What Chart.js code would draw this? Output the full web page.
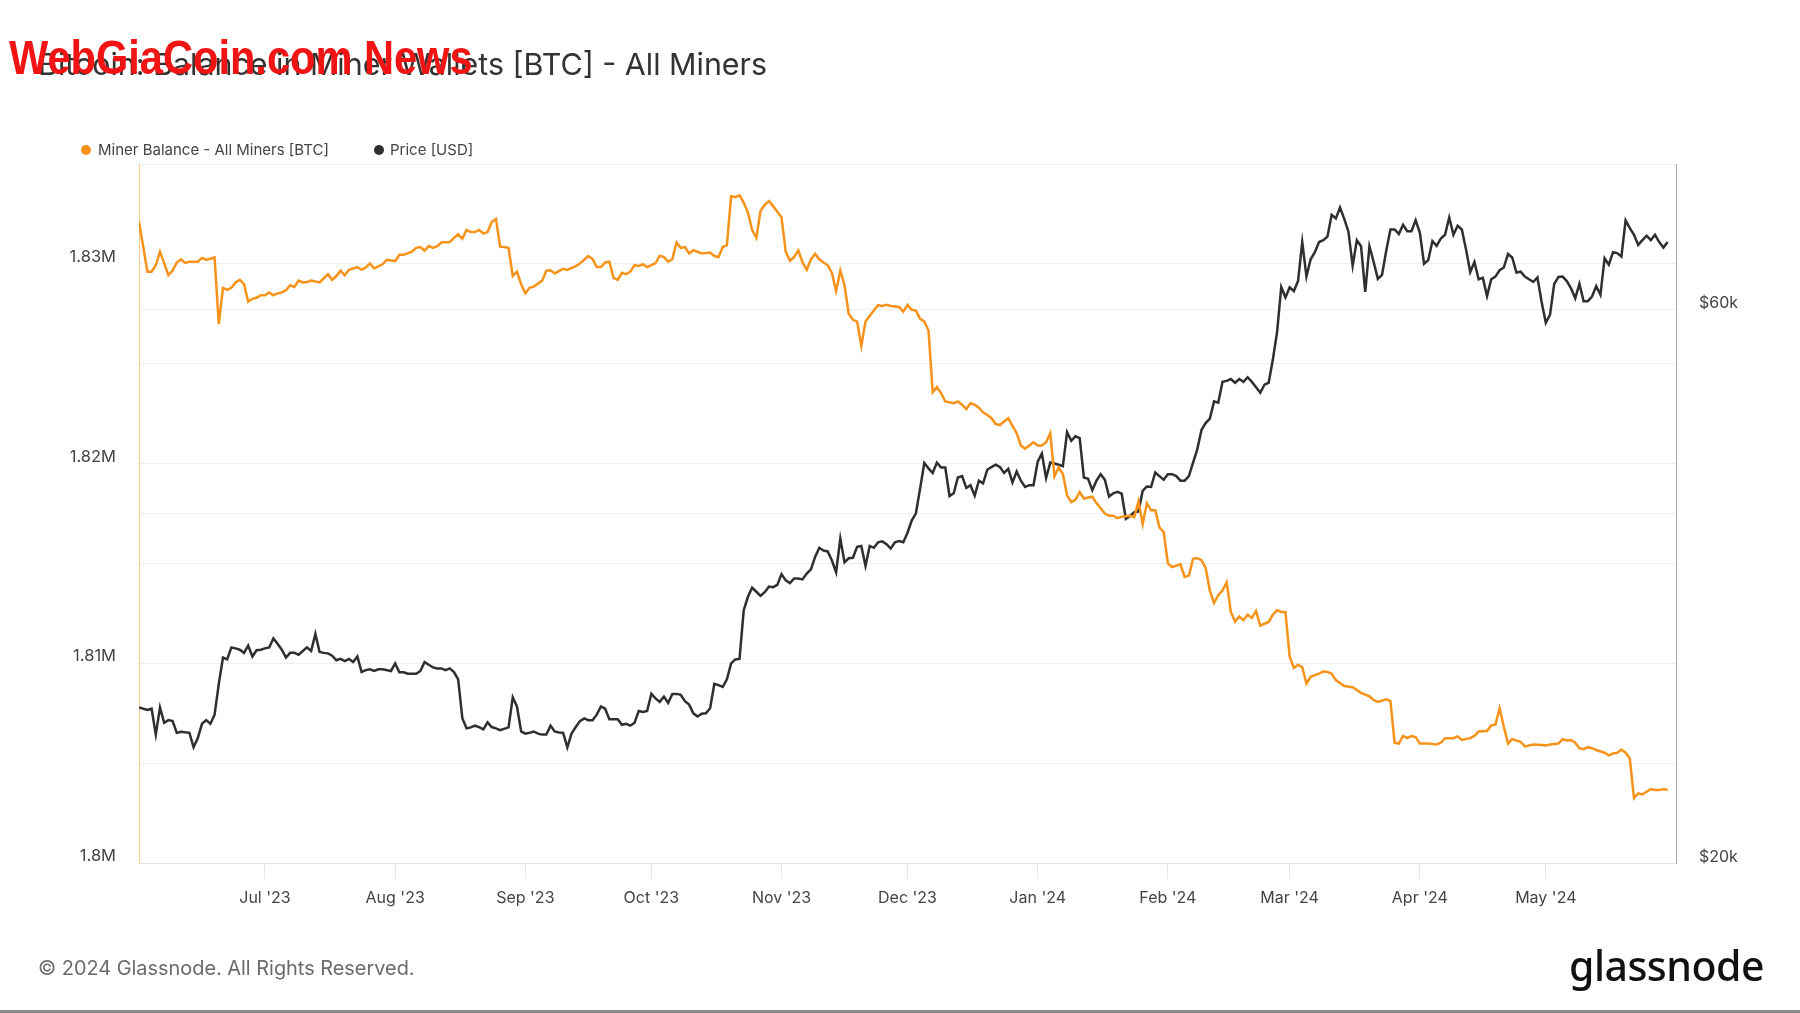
<!DOCTYPE html>
<html>
<head>
<meta charset="utf-8">
<script src="https://cdn.jsdelivr.net/npm/chart.js@4.4.1/dist/chart.umd.min.js"></script>
<style>
  html, body { margin: 0; padding: 0; background: #fff; }
  body { width: 1800px; height: 1013px; position: relative; overflow: hidden; font-family: Inter, "Open Sans", sans-serif; }
  #chart { position: absolute; left: 0; top: 0; }
  .title { position: absolute; left: 38px; top: 48px; font-size: 30.4px; line-height: 32px; color: #333; white-space: nowrap; }
  .mark { position: absolute; left: 9px; top: 34px; font-family: "Liberation Sans", Arial, sans-serif; font-weight: bold; font-size: 48px; line-height: 48px; color: #f01414; white-space: nowrap; transform: scaleX(0.866); transform-origin: left top; }
  .legend { position: absolute; top: 141px; left: 0; font-size: 15px; line-height: 18px; color: #444; white-space: nowrap; }
  .legend .item { position: absolute; top: 0; }
  .legend .dot { position: absolute; top: 4px; width: 10px; height: 10px; border-radius: 50%; }
  .footer { position: absolute; left: 38px; top: 955px; font-size: 19.9px; line-height: 26px; color: #6b6b6b; white-space: nowrap; }
  .logo { position: absolute; left: 1569px; top: 940px; font-family: "Noto Sans", sans-serif; font-weight: 500; font-size: 41px; line-height: 50px; color: #111; letter-spacing: -0.5px; white-space: nowrap; }
  .bottom-rule { position: absolute; left: 0; top: 1010px; width: 1800px; height: 3px; background: #8a8a8a; }
</style>
</head>
<body>
<canvas id="chart" width="1800" height="1013"></canvas>
<div class="title">Bitcoin: Balance in Miner Wallets [BTC] - All Miners</div>
<div class="mark">WebGiaCoin.com News</div>
<div class="legend">
  <div class="item" style="left:81px"><span class="dot" style="left:0;background:#f7931a"></span><span style="position:absolute;left:17px">Miner Balance - All Miners [BTC]</span></div>
  <div class="item" style="left:374px"><span class="dot" style="left:0;background:#2f2f2f"></span><span style="position:absolute;left:16px">Price [USD]</span></div>
</div>
<div class="footer">© 2024 Glassnode. All Rights Reserved.</div>
<div class="logo">glassnode</div>
<div class="bottom-rule"></div>

<script>
// days counted from 2023-06-01
const balanceDays = [
  0, 2, 3, 4, 5, 7, 8, 9, 10, 11, 12, 14, 15, 16, 18, 19, 20, 21, 22, 23, 24, 25, 26, 27, 28, 29, 30, 31, 32, 33,
  34, 35, 36, 37, 38, 39, 40, 41, 43, 45, 46, 47, 48, 49, 50, 52, 53, 54, 55, 56, 58, 59, 61, 62, 63, 65, 66, 67, 68, 69,
  70, 71, 72, 74, 75, 76, 77, 78, 79, 80, 81, 82, 83, 84, 85, 86, 87, 88, 89, 90, 91, 92, 93, 94, 96, 97, 98, 99, 101, 102,
  104, 105, 107, 108, 109, 110, 111, 112, 113, 114, 115, 116, 117, 118, 119, 120, 121, 123, 124, 125, 126, 127, 128, 129, 130, 131, 132, 134, 136, 137,
  138, 139, 140, 141, 142, 143, 144, 145, 146, 147, 148, 149, 150, 151, 152, 153, 154, 155, 156, 157, 158, 159, 160, 161, 162, 163, 164, 165, 166, 167,
  168, 169, 170, 171, 172, 173, 174, 175, 176, 177, 178, 179, 181, 182, 183, 184, 185, 186, 187, 188, 189, 190, 191, 192, 194, 195, 196, 197, 198, 199,
  200, 201, 202, 203, 204, 205, 206, 207, 208, 209, 210, 211, 212, 213, 214, 215, 216, 217, 218, 219, 220, 221, 222, 223, 224, 225, 227, 228, 230, 231,
  232, 233, 234, 236, 237, 238, 239, 240, 241, 242, 243, 244, 245, 246, 248, 249, 250, 251, 252, 253, 254, 255, 256, 257, 258, 259, 260, 261, 262, 263,
  264, 265, 266, 267, 268, 269, 270, 271, 272, 273, 274, 275, 276, 277, 278, 279, 281, 282, 283, 284, 285, 287, 289, 291, 293, 294, 295, 297, 298, 299,
  300, 301, 302, 303, 304, 305, 307, 309, 310, 311, 313, 314, 315, 317, 318, 319, 321, 322, 323, 324, 325, 326, 327, 329, 330, 332, 334, 335, 336, 338,
  339, 340, 341, 342, 343, 344, 345, 346, 347, 349, 350, 351, 352, 353, 354, 355, 356, 357, 358, 359, 360, 361, 362, 363, 364
];
const balanceValues = [
  1832110, 1829610, 1829610, 1829930, 1830610, 1829430, 1829660, 1830070, 1830230, 1830050, 1830110, 1830110, 1830300, 1830200, 1830320, 1826980, 1828800, 1828700, 1828800, 1829070, 1829200, 1828980, 1828110, 1828250, 1828300, 1828430, 1828430, 1828570, 1828430, 1828520,
  1828570, 1828680, 1828930, 1828840, 1829160, 1829070, 1829090, 1829160, 1829070, 1829480, 1829200, 1829390, 1829660, 1829430, 1829700, 1829840, 1829700, 1829820, 1830020, 1829770, 1829980, 1830200, 1830140, 1830450, 1830450, 1830610, 1830800, 1830840, 1830660, 1830890,
  1830800, 1830890, 1831070, 1831090, 1831300, 1831480, 1831250, 1831700, 1831590, 1831590, 1831700, 1831520, 1831590, 1832090, 1832250, 1830860, 1830840, 1830800, 1829390, 1829610, 1828980, 1828520, 1828800, 1828860, 1829160, 1829660, 1829680, 1829520, 1829750, 1829700,
  1829890, 1830020, 1830390, 1830250, 1829840, 1829840, 1830070, 1830110, 1829300, 1829200, 1829550, 1829480, 1829610, 1829930, 1829890, 1829980, 1829840, 1830030, 1830410, 1830340, 1830110, 1830230, 1831070, 1830800, 1830840, 1830520, 1830680, 1830520, 1830570, 1830390,
  1830340, 1830840, 1830950, 1833390, 1833340, 1833430, 1833070, 1832570, 1831700, 1831300, 1832660, 1832950, 1833140, 1832890, 1832610, 1832340, 1830610, 1830160, 1830340, 1830680, 1830070, 1829700, 1830230, 1830500, 1830230, 1830070, 1829930, 1829550, 1828640, 1829660,
  1828930, 1827500, 1827200, 1827110, 1825890, 1827110, 1827390, 1827680, 1827930, 1827890, 1827950, 1827890, 1827840, 1827610, 1827950, 1827700, 1827660, 1827250, 1827110, 1826660, 1823570, 1823840, 1823520, 1823110, 1823020, 1823110, 1822950, 1822730, 1823020, 1822950,
  1822800, 1822570, 1822430, 1822270, 1821980, 1821930, 1822110, 1822270, 1821890, 1821520, 1820910, 1820750, 1820910, 1821070, 1820910, 1820910, 1821070, 1821520, 1819360, 1819800, 1819480, 1818410, 1818070, 1818180, 1818570, 1818250, 1818340, 1818020, 1817500, 1817390,
  1817390, 1817270, 1817340, 1817390, 1817320, 1818110, 1816980, 1818020, 1817660, 1817660, 1816800, 1816570, 1815000, 1814820, 1814950, 1814320, 1814390, 1815230, 1815270, 1815160, 1814770, 1813640, 1813020, 1813410, 1813640, 1814050, 1812570, 1812090, 1812340, 1812160,
  1812430, 1812270, 1812610, 1811890, 1811980, 1812070, 1812430, 1812660, 1812570, 1812570, 1810340, 1809770, 1809930, 1809800, 1808980, 1809320, 1809480, 1809590, 1809570, 1809480, 1809160, 1808860, 1808800, 1808520, 1808340, 1808160, 1808070, 1808200, 1808110, 1806020,
  1805980, 1806360, 1806250, 1806360, 1806300, 1805980, 1805980, 1805930, 1806020, 1806250, 1806250, 1806340, 1806160, 1806250, 1806360, 1806590, 1806610, 1806890, 1806930, 1807750, 1806820, 1805980, 1806200, 1806070, 1805840, 1805930, 1805910, 1805890, 1805930, 1805980,
  1806200, 1806140, 1806160, 1806020, 1805750, 1805700, 1805800, 1805750, 1805660, 1805520, 1805390, 1805480, 1805520, 1805680, 1805520, 1805230, 1803250, 1803480, 1803430, 1803570, 1803700, 1803660, 1803660, 1803700, 1803660
];

const priceDays = [
  0, 2, 3, 4, 5, 6, 7, 8, 9, 10, 12, 13, 14, 15, 16, 17, 18, 19, 20, 21, 22, 23, 24, 25, 26, 27, 28, 29, 30, 31,
  32, 33, 34, 35, 36, 37, 38, 39, 40, 41, 42, 43, 44, 45, 46, 47, 48, 49, 50, 51, 52, 53, 54, 55, 56, 57, 58, 60, 61, 62,
  63, 64, 66, 67, 68, 69, 70, 71, 72, 73, 74, 75, 76, 77, 78, 79, 80, 81, 82, 83, 84, 85, 86, 88, 89, 90, 91, 92, 93, 94,
  95, 96, 97, 98, 99, 100, 101, 102, 103, 104, 105, 106, 107, 108, 109, 110, 111, 112, 113, 114, 115, 116, 117, 118, 119, 120, 121, 122, 123, 124,
  125, 126, 127, 128, 129, 130, 131, 132, 133, 134, 135, 136, 137, 138, 139, 140, 141, 142, 143, 144, 145, 146, 147, 148, 149, 150, 151, 152, 153, 154,
  155, 156, 157, 158, 159, 160, 161, 162, 163, 164, 165, 166, 167, 168, 169, 170, 171, 172, 173, 174, 175, 176, 177, 178, 179, 180, 181, 182, 183, 184,
  185, 186, 187, 188, 189, 190, 191, 192, 193, 194, 195, 196, 197, 198, 199, 200, 201, 202, 203, 204, 205, 206, 207, 208, 209, 210, 211, 212, 213, 214,
  215, 216, 217, 218, 219, 220, 221, 222, 223, 224, 225, 226, 227, 228, 229, 230, 231, 232, 233, 234, 235, 236, 237, 238, 239, 240, 241, 242, 243, 244,
  245, 246, 247, 248, 249, 250, 251, 252, 253, 254, 255, 256, 257, 258, 259, 260, 261, 262, 263, 264, 265, 266, 267, 268, 269, 270, 271, 272, 273, 274,
  275, 276, 277, 278, 279, 280, 281, 282, 283, 284, 285, 286, 287, 288, 289, 290, 291, 292, 293, 294, 295, 296, 297, 298, 299, 300, 301, 302, 303, 304,
  305, 306, 307, 308, 309, 310, 311, 312, 313, 314, 315, 316, 317, 318, 319, 320, 321, 322, 323, 324, 325, 326, 327, 328, 329, 330, 331, 332, 333, 334,
  335, 336, 337, 338, 339, 340, 341, 342, 343, 344, 345, 346, 347, 348, 349, 350, 351, 352, 353, 354, 355, 356, 357, 358, 359, 360, 361, 362, 363, 364
];
const priceValues = [
  27230, 27090, 27160, 25800, 27230, 26410, 26550, 26500, 25890, 25940, 25890, 25160, 25620, 26360, 26550, 26360, 26840, 28530, 30060, 29950, 30670, 30610, 30530, 30340, 30780, 30120, 30500, 30530, 30610, 30670,
  31220, 30890, 30530, 30060, 30340, 30340, 30230, 30450, 30670, 30450, 31500, 30390, 30340, 30310, 30170, 29900, 29980, 29850, 29980, 29790, 30120, 29210, 29320, 29370, 29270, 29370, 29370, 29270, 29710, 29190,
  29190, 29110, 29110, 29270, 29790, 29630, 29480, 29420, 29420, 29320, 29420, 29210, 28790, 26650, 26120, 26170, 26260, 26190, 26070, 26430, 26190, 26120, 26030, 26170, 27780, 27280, 25960, 25850, 25890, 25960,
  25850, 25800, 25800, 26260, 25960, 25910, 25890, 25160, 25850, 26190, 26500, 26640, 26550, 26550, 26840, 27280, 27160, 26600, 26600, 26600, 26310, 26360, 26260, 26410, 27040, 26990, 27040, 27970, 27720, 27530,
  27820, 27470, 27970, 27970, 27920, 27570, 27380, 26910, 26740, 26890, 26910, 27180, 28530, 28460, 28360, 28790, 29710, 29950, 29980, 33010, 33910, 34530, 34250, 33970, 34220, 34600, 34560, 34720, 35470, 35030,
  34840, 35160, 35160, 35100, 35510, 35800, 36700, 37370, 37170, 37100, 36440, 35600, 38060, 36310, 36600, 36640, 37440, 37510, 36050, 37510, 37370, 37780, 37850, 37640, 37310, 37780, 37880, 37780, 38500, 39440,
  40020, 42020, 44210, 43750, 43350, 44250, 43820, 43820, 41410, 41640, 42960, 43080, 42080, 42310, 41440, 42690, 42460, 43630, 43860, 44060, 43860, 43350, 43710, 42540, 43470, 42690, 42160, 42310, 42310, 44330,
  45050, 42920, 44250, 44170, 44060, 43940, 47000, 46200, 46620, 46450, 42960, 42850, 41890, 42690, 43240, 42770, 41370, 41640, 41760, 41600, 39580, 39800, 40100, 40170, 41830, 42200, 42160, 43390, 43080, 42770,
  43240, 43240, 43080, 42690, 42690, 43080, 44250, 45420, 47210, 47860, 48290, 49960, 49830, 51930, 52030, 52220, 51840, 52220, 51930, 52410, 51930, 51370, 50820, 51650, 51840, 54280, 57300, 62690, 61400, 62630,
  62180, 63430, 68530, 63990, 66230, 67170, 68530, 68780, 69270, 72330, 71810, 73370, 71750, 69950, 65380, 68780, 67960, 62070, 67960, 65880, 63710, 64220, 67350, 70260, 70260, 69640, 70900, 70010, 70010, 71550,
  69830, 65640, 66110, 68660, 68020, 69020, 69520, 71940, 69520, 70770, 70260, 67540, 64570, 65880, 63650, 63820, 61560, 63650, 63990, 64800, 65150, 66930, 66460, 64510, 64620, 63990, 63650, 63310, 63880, 60840,
  58380, 59330, 63080, 63940, 63990, 63430, 62520, 61290, 63080, 60950, 60950, 61510, 62800, 61720, 66350, 65520, 67170, 67050, 66580, 71550, 70450, 69520, 68140, 68780, 69390, 68780, 69520, 68530, 67780, 68530
];

const monthTicks = [30, 61, 92, 122, 153, 183, 214, 245, 274, 305, 335];
const monthLabels = ["Jul '23", "Aug '23", "Sep '23", "Oct '23", "Nov '23", "Dec '23", "Jan '24", "Feb '24", "Mar '24", "Apr '24", "May '24"];
const priceTicks = [20000, 40000, 60000];
const priceTickLabels = ["$20k", "", "$60k"];

const orange = "#f7931a";
const dark = "#2f2f2f";
const gridColor = "#efefef";

Chart.defaults.font.family = "Inter, 'Open Sans', sans-serif";

const ctx = document.getElementById("chart").getContext("2d");
new Chart(ctx, {
  type: "line",
  data: {
    datasets: [
      {
        label: "Miner Balance - All Miners [BTC]",
        data: balanceDays.map((d, i) => ({ x: d, y: balanceValues[i] })),
        yAxisID: "yBal",
        borderColor: orange,
        borderWidth: 2.5,
        pointRadius: 0,
        tension: 0,
      },
      {
        label: "Price [USD]",
        data: priceDays.map((d, i) => ({ x: d, y: priceValues[i] })),
        yAxisID: "yPrice",
        borderColor: dark,
        borderWidth: 2.5,
        pointRadius: 0,
        tension: 0,
      },
    ],
  },
  options: {
    responsive: false,
    animation: false,
    events: [],
    layout: { padding: { top: 164, left: 0, right: 0, bottom: 0 } },
    plugins: { legend: { display: false }, tooltip: { enabled: false } },
    scales: {
      x: {
        type: "linear",
        min: 0,
        max: 366,
        afterBuildTicks: (axis) => { axis.ticks = monthTicks.map((v) => ({ value: v })); },
        afterFit: (axis) => { axis.height = 150; },
        ticks: {
          autoSkip: false,
          maxRotation: 0,
          padding: 10,
          color: "#444",
          font: { size: 16 },
          callback: (v, i) => monthLabels[i],
        },
        grid: { drawOnChartArea: false, drawTicks: true, tickLength: 16, color: "#e6e6e6" },
        border: { color: "#e3e3e3" },
      },
      yBal: {
        type: "linear",
        position: "left",
        min: 1800000,
        max: 1835000,
        afterFit: (axis) => { axis.width = 139; },
        ticks: {
          stepSize: 5000,
          padding: 23,
          labelOffset: -7,
          color: "#444",
          font: { size: 16.5 },
          callback: (v) => (v % 10000 === 0 ? v / 1e6 + "M" : ""),
        },
        grid: { color: gridColor, drawTicks: false },
        border: { color: "#fbc98c" },
      },
      yPrice: {
        type: "logarithmic",
        position: "right",
        min: 20000,
        max: 80000,
        afterBuildTicks: (axis) => { axis.ticks = priceTicks.map((v) => ({ value: v })); },
        afterFit: (axis) => { axis.width = 124; },
        ticks: {
          padding: 23,
          labelOffset: -6,
          color: "#444",
          font: { size: 16 },
          callback: (v, i) => priceTickLabels[i],
        },
        grid: { color: gridColor, drawTicks: false },
        border: { color: "#a8a8a8" },
      },
    },
  },
});
</script>
</body>
</html>
